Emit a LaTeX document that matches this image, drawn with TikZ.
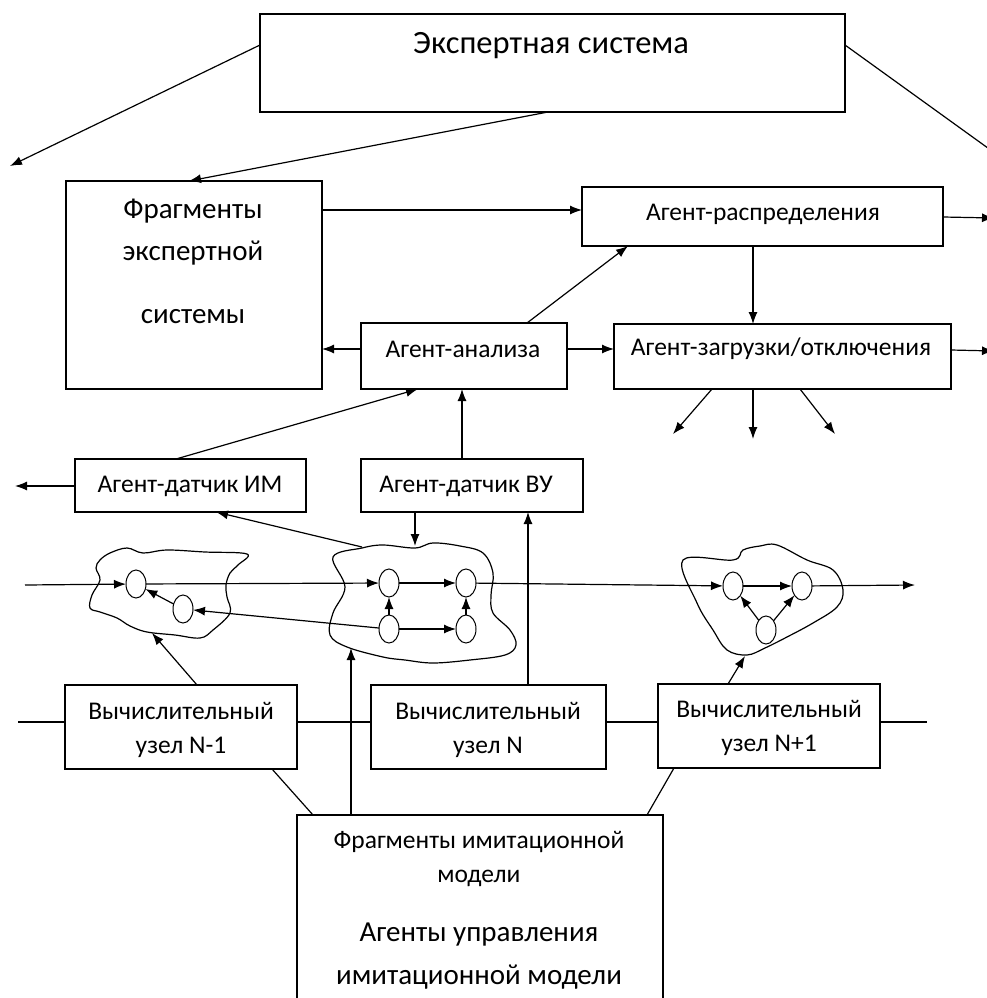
\documentclass[tikz,border=0pt]{standalone}
\usepackage{fontspec}
\setmainfont{Carlito}
\usetikzlibrary{arrows.meta,shapes.geometric}
\begin{document}
\begin{tikzpicture}[x=1pt,y=-1pt,
  box/.style={draw,line width=1.2pt,inner sep=0pt,outer sep=0pt,anchor=north west},
  txt/.style={inner sep=0pt,font=\fontsize{25.5}{28}\selectfont},
  mtxt/.style={inner sep=0pt,font=\fontsize{29}{32}\selectfont},
  btxt/.style={inner sep=0pt,font=\fontsize{32.5}{36}\selectfont},
  circ/.style={ellipse,draw,line width=1pt,minimum width=20pt,minimum height=28pt,inner sep=0pt,outer sep=0pt},
  arr/.style={line width=1.2pt,-{Latex[length=12pt,width=9pt]}},
  ln/.style={line width=1.2pt},
  cloud/.style={line width=1.2pt}]
\useasboundingbox (0,0) rectangle (987,998);

% boxes
\node[box,minimum width=585pt,minimum height=98pt] (es) at (260,14) {};
\node[btxt] (est) at (551,46) {Экспертная система};

\node[box,minimum width=256pt,minimum height=208pt] (frag) at (66,181) {};
\node[mtxt] (fr1) at (193,211) {Фрагменты};
\node[mtxt] (fr2) at (193,253) {экспертной};
\node[mtxt] (fr3) at (193,317) {системы};

\node[box,minimum width=361pt,minimum height=59pt] (rasp) at (582,187) {};
\node[txt] (raspt) at (763,214) {Агент-распределения};

\node[box,minimum width=206pt,minimum height=66pt] (ana) at (361,323) {};
\node[txt] (anat) at (463,349) {Агент-анализа};

\node[box,minimum width=337pt,minimum height=65pt] (zag) at (614,324) {};
\node[txt] (zagt) at (781,349) {Агент-загрузки/отключения};

\node[box,minimum width=231pt,minimum height=53pt] (im) at (75,459) {};
\node[txt] (imt) at (190,486) {Агент-датчик ИМ};

\node[box,minimum width=222pt,minimum height=53pt] (vu) at (361,459) {};
\node[txt] (vut) at (466,486) {Агент-датчик ВУ};

\node[box,minimum width=232pt,minimum height=84pt] (n1) at (65,685) {};
\node[txt] (n1a) at (181,711) {Вычислительный};
\node[txt] (n1b) at (181,747) {узел N-1};

\node[box,minimum width=235pt,minimum height=84pt] (nn) at (371,685) {};
\node[txt] (nna) at (488,711) {Вычислительный};
\node[txt] (nnb) at (488,747) {узел N};

\node[box,minimum width=222pt,minimum height=84pt] (n3) at (658,684) {};
\node[txt] (n3a) at (769,709) {Вычислительный};
\node[txt] (n3b) at (769,745) {узел N+1};

\node[box,minimum width=366pt,minimum height=200pt] (bot) at (297,815) {};
\node[txt] (bt1) at (479,842) {Фрагменты имитационной};
\node[txt] (bt2) at (479,878) {модели};
\node[mtxt] (bt3) at (479,935) {Агенты управления};
\node[mtxt] (bt4) at (479,977) {имитационной модели};

% clouds
\draw[cloud] plot[smooth cycle,tension=0.6] coordinates {
 (100,560) (110,553) (127,548) (143,553) (167,550) (205,552) (247,554)
 (238,565) (230,573) (226,585) (227,597) (230,613) (213,630) (200,638)
 (175,635) (147,632) (130,626) (117,618) (100,612) (90,608) (92,595) (100,580) (96,568)};
\draw[cloud] plot[smooth cycle,tension=0.6] coordinates {
 (362,548) (383,545) (415,548) (433,543) (460,546) (483,553) (493,573)
 (491,595) (493,613) (510,630) (516,645) (505,655) (470,660) (433,663)
 (405,660) (383,657) (347,647) (330,635) (333,613) (345,587) (333,557)};
\draw[cloud] plot[smooth cycle,tension=0.6] coordinates {
 (683,560) (733,560) (743,550) (760,546) (777,545) (807,560) (833,570) (843,590)
 (837,607) (813,623) (787,637) (765,648) (747,655) (727,650) (713,630) (697,603)};

\coordinate (k1b) at (152,633);
\coordinate (k2t) at (415,546);
\coordinate (k2tl) at (362,547);
\coordinate (k2b) at (351,648);
\coordinate (k3b) at (745,656);

% small circles
\node[circ] (c1) at (136,584) {};
\node[circ] (c2) at (183,609) {};
\node[circ] (c3) at (389,583) {};
\node[circ] (c4) at (466,583) {};
\node[circ] (c5) at (389,629) {};
\node[circ] (c6) at (466,629) {};
\node[circ] (c7) at (733,586) {};
\node[circ] (c8) at (802,586) {};
\node[circ] (c9) at (766,630) {};

\coordinate (inL) at (25,585);
\coordinate (outR) at (915,585);

% main flow
\draw[arr] (inL) -- (c1);
\draw[arr] (c1) -- (c3);
\draw[arr] (c3) -- (c4);
\draw[arr] (c4) -- (c7);
\draw[arr] (c7) -- (c8);
\draw[arr] (c8) -- (outR);
\draw[arr] (c2) -- (c1);
\draw[arr] (c5) -- (c2);
\draw[arr] (c5) -- (c3);
\draw[arr] (c6) -- (c4);
\draw[arr] (c5) -- (c6);
\draw[arr] (c9) -- (c7);
\draw[arr] (c9) -- (c8);

% top connectors
\coordinate (eL) at (10,166);
\coordinate (eR) at (992,151);
\draw[arr] (es.west |- 0,45) -- (eL);
\draw[ln] (es.east |- 0,45) -- (eR);
\draw[arr] (es.south -| 548,0) -- (frag.north -| 189,0);
\draw[arr] (frag.east |- 0,210) -- (rasp.west |- 0,210);
\coordinate (raspR) at (994,218);
\draw[arr] (rasp.east |- 0,217) -- (raspR);
\draw[arr] (rasp.south -| 753,0) -- (zag.north -| 753,0);
\coordinate (zagR) at (994,351);
\draw[arr] (zag.east |- 0,350) -- (zagR);
\draw[arr] (ana.west |- 0,349) -- (frag.east |- 0,349);
\draw[arr] (ana.east |- 0,349) -- (zag.west |- 0,349);
\draw[arr] (ana.north -| 527,0) -- (rasp.south -| 628,0);
\coordinate (d1) at (673,434);
\coordinate (d2) at (753,439);
\coordinate (d3) at (835,434);
\draw[arr] (zag.south -| 712,0) -- (d1);
\draw[arr] (zag.south -| 753,0) -- (d2);
\draw[arr] (zag.south -| 800,0) -- (d3);
\draw[arr] (im.north -| 176,0) -- (ana.south -| 418,0);
\draw[arr] (vu.north -| 462,0) -- (ana.south -| 462,0);
\coordinate (imL) at (15,486);
\draw[arr] (im.west |- 0,486) -- (imL);
\draw[arr] (vu.south -| 415,0) -- (k2t);
\draw[arr] (k2tl) -- (im.south -| 216,0);

% bottom connectors
\draw[arr] (n1.north -| 197,0) -- (k1b);
\draw[arr] (bot.north -| 351,0) -- (k2b);
\draw[arr] (nn.north -| 528,0) -- (vu.south -| 528,0);
\draw[arr] (n3.north -| 728,0) -- (k3b);
\draw[ln] (bot.north -| 313,0) -- (n1.south -| 272,0);
\draw[ln] (bot.north -| 647,0) -- (n3.south -| 674,0);
\coordinate (busL) at (18,722);
\coordinate (busR) at (927,722);
\draw[ln] (busL) -- (n1.west |- busL);
\draw[ln] (n1.east |- busL) -- (nn.west |- busL);
\draw[ln] (nn.east |- busL) -- (n3.west |- busL);
\draw[ln] (n3.east |- busL) -- (busR);
\end{tikzpicture}
\end{document}
